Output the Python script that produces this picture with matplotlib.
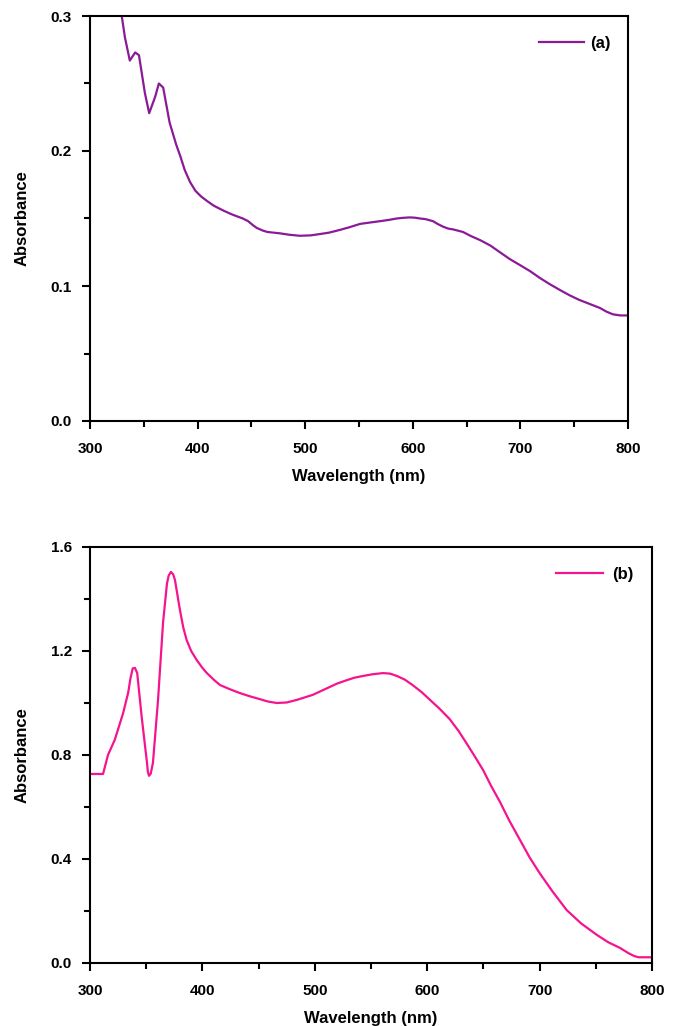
import numpy as np
import matplotlib.pyplot as plt
from matplotlib.ticker import MultipleLocator

# =============================================================================
# Datos leídos del espectro (a)
# =============================================================================
wl_a = [329.5, 332.5, 337, 342, 345.5, 351, 355, 360.5, 364, 368, 374, 380,
        384, 388, 393, 398, 403, 408.7, 415, 423.6, 432, 442, 447, 451.5,
        455, 460.8, 465, 476.6, 485, 495, 505, 513.8, 522, 532, 541, 551,
        560, 569.5, 578, 585, 591, 597, 602, 606.7, 612, 618.8, 623, 628,
        633, 637, 642, 646.7, 654, 662.5, 672, 681, 690, 699.6, 709, 718,
        727, 736.8, 746, 755, 765, 774, 780, 786, 793, 800]
abs_a = [0.300, 0.284, 0.267, 0.273, 0.271, 0.243, 0.228, 0.240, 0.250, 0.247,
         0.221, 0.205, 0.196, 0.186, 0.177, 0.1705, 0.1665, 0.163, 0.1595,
         0.156, 0.153, 0.150, 0.148, 0.145, 0.143, 0.141, 0.140, 0.139,
         0.138, 0.1372, 0.1375, 0.1385, 0.1395, 0.1415, 0.1435, 0.146, 0.147,
         0.148, 0.149, 0.150, 0.1505, 0.1508, 0.1506, 0.150, 0.1495, 0.148,
         0.146, 0.144, 0.1425, 0.142, 0.141, 0.140, 0.137, 0.134, 0.130,
         0.125, 0.120, 0.1155, 0.111, 0.106, 0.1015, 0.097, 0.093, 0.0896,
         0.0865, 0.0837, 0.081, 0.079, 0.0782, 0.0782]

# =============================================================================
# Datos leídos del espectro (b)
# =============================================================================
wl_b = [300, 311.6, 316, 322, 329.4, 334, 336, 338, 340, 342, 346, 350.7,
        351.5, 352.5, 354, 356, 360.5, 365, 368.5, 370, 372, 374, 375.6, 380,
        383, 386, 390, 395, 400, 404, 410, 415.7, 425, 433.5, 442, 451, 458,
        466, 475, 484, 498, 505, 513.5, 520, 528.6, 535, 543, 552, 560.7,
        567, 573, 580, 587, 595, 602.5, 611, 620, 628, 635, 643, 650, 657,
        664.8, 673, 682.6, 691, 700, 711, 724, 737, 751, 761, 771.5, 779,
        784, 788, 800]
abs_b = [0.727, 0.727, 0.80, 0.858, 0.96, 1.04, 1.095, 1.133, 1.135, 1.115,
         0.946, 0.77, 0.735, 0.72, 0.728, 0.77, 1.01, 1.31, 1.46, 1.49,
         1.504, 1.495, 1.473, 1.358, 1.29, 1.242, 1.20, 1.165, 1.135, 1.115,
         1.09, 1.069, 1.052, 1.038, 1.026, 1.015, 1.006, 1.0, 1.002, 1.012,
         1.031, 1.045, 1.062, 1.075, 1.088, 1.097, 1.104, 1.111, 1.115, 1.113,
         1.104, 1.09, 1.069, 1.042, 1.012, 0.978, 0.938, 0.892, 0.845, 0.79,
         0.74, 0.68, 0.619, 0.548, 0.473, 0.407, 0.346, 0.278, 0.204, 0.152,
         0.108, 0.08, 0.058, 0.038, 0.027, 0.022, 0.022]

color_a = '#8b1a96'
color_b = '#f5148e'

plt.rcParams['font.family'] = ['Liberation Sans', 'DejaVu Sans']
plt.rcParams['font.weight'] = 'bold'

fig = plt.figure(figsize=(6.75, 10.26), dpi=100)
ax_a = fig.add_axes([90/675, 1 - 421/1026, 538/675, 405/1026])
ax_b = fig.add_axes([90/675, 1 - 963/1026, 562/675, 416/1026])


def estilo(ax, ymax, ymaj, ymin):
    ax.set_xlim(300, 800)
    ax.set_ylim(0, ymax)
    ax.xaxis.set_major_locator(MultipleLocator(100))
    ax.xaxis.set_minor_locator(MultipleLocator(50))
    ax.yaxis.set_major_locator(MultipleLocator(ymaj))
    ax.yaxis.set_minor_locator(MultipleLocator(ymin))
    ax.yaxis.set_major_formatter(plt.FormatStrFormatter('%.1f'))
    ax.tick_params(which='major', direction='out', length=6, width=1.5,
                   labelsize=11)
    ax.tick_params(axis='x', which='major', pad=9)
    ax.tick_params(axis='y', which='major', pad=7)
    ax.tick_params(which='minor', direction='out', length=4, width=1.5)
    for s in ax.spines.values():
        s.set_linewidth(1.5)
    ax.set_xlabel('Wavelength (nm)', fontsize=12, fontweight='bold', labelpad=9.5)
    ax.set_ylabel('Absorbance', fontsize=12, fontweight='bold', labelpad=15.5)


ax_a.plot(wl_a, abs_a, color=color_a, lw=1.6, label='(a)',
          solid_joinstyle='round')
estilo(ax_a, 0.3, 0.1, 0.05)
ax_a.legend(loc='center left', bbox_to_anchor=(0.835, 0.933), frameon=False,
            borderpad=0, borderaxespad=0, handlelength=2.7, handletextpad=0.36,
            prop={'size': 12, 'weight': 'bold'})

ax_b.plot(wl_b, abs_b, color=color_b, lw=1.6, label='(b)',
          solid_joinstyle='round')
estilo(ax_b, 1.6, 0.4, 0.2)
ax_b.legend(loc='center left', bbox_to_anchor=(0.829, 0.935), frameon=False,
            borderpad=0, borderaxespad=0, handlelength=2.8, handletextpad=0.6,
            prop={'size': 12, 'weight': 'bold'})

fig.savefig('out.png', dpi=100)
